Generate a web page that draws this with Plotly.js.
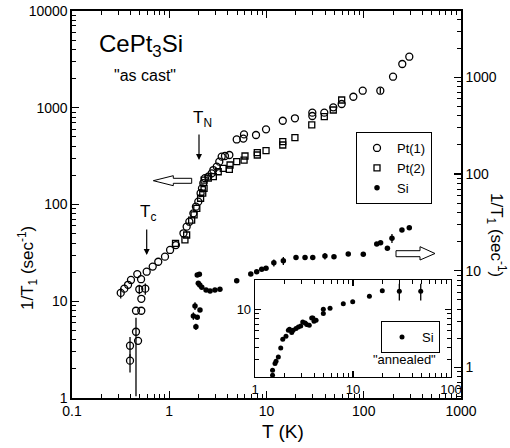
<!DOCTYPE html>
<html><head><meta charset="utf-8">
<script src="https://cdn.plot.ly/plotly-3.0.1.min.js"></script>
<style>html,body{margin:0;padding:0;background:#fff}</style>
</head><body>
<div id="chart" style="width:510px;height:448px"></div>
<script>
// Pt(1) open circles (left axis)
const pt1T = [0.317,0.345,0.377,0.404,0.469,0.513,0.492,0.567,0.516,0.455,0.516,0.455,0.478,0.395,0.395,
  0.586,0.676,0.771,0.904,1.02,1.17,1.40,1.51,1.61,1.77,1.88,1.99,2.10,2.17,2.24,2.33,2.52,2.73,2.84,3.08,3.27,3.46,3.74,4.15,
  4.94,5.78,5.87,7.80,9.89,14.7,19.6,29.6,29.6,39.3,48.6,59.3,78.2,97.6,148,200,249,294];
const pt1V = [12.2,13.5,14.8,16.6,19.1,16.9,13.3,13.5,10.6,7.98,7.98,4.84,3.9,3.47,2.43,
  20.2,22.8,25.6,28.9,33.9,38.1,50.4,59,66.4,81,95,107,131,147,166,187,194,210,227,246,277,312,317,325,
  470,480,530,523,598,734,778,889,822,889,1010,1094,1300,1500,1500,2094,2831,3370];
const pt1ErrPlus = [1.5,0,0,0,0,0,1.5,1.8,0,0,0,1.9,0,0.8,0.4,
  0,0,0,0,0,0,0,0,0,0,0,0,0,0,0,0,0,0,0,0,0,0,0,0,
  0,0,0,0,0,0,0,0,0,0,0,0,0,0,100,0,0,0];
const pt1ErrMinus = [1.5,0,0,0,0,0,1.5,1.8,0,0,0,3.8,0,0.8,0.6,
  0,0,0,0,0,0,0,0,0,0,0,0,0,0,0,0,0,0,0,0,0,0,0,0,
  0,0,0,0,0,0,0,0,0,0,0,0,0,0,100,0,0,0];

// Pt(2) open squares (left axis)
const pt2T = [1.16,1.45,1.51,1.70,1.80,1.92,2.10,2.21,2.28,2.28,2.52,2.84,3.19,3.59,4.15,4.22,4.94,5.88,6.01,8.04,8.04,9.89,14.7,14.7,19.6,29.2,39.3,48.6,59.3];
const pt2V = [39.7,43,48.4,69,78,91,116,131,147,179,187,194,218,236,231,256,277,288,317,325,343,360,412,446,490,664,809,948,1202];

// Si filled dots, "as cast" (right axis)
const siT = [1.94,2.04,1.99,2.06,2.16,2.39,2.63,2.95,3.32,4.94,6.89,7.93,8.93,9.89,11.9,14.9,20.1,24.9,29.9,39.9,49.4,69.3,98.9,136,149,175,195,247,294,
  1.84,1.77,1.94,2.07,1.88];
const siV = [9.05,9.2,7.43,7.13,6.75,6.33,6.18,6.33,6.44,7.91,9.27,9.79,10.4,10.6,12.1,12.7,13.7,13.7,13.7,14.2,14.0,14.9,14.8,18.9,19.5,17.1,21.7,26.4,27.9,
  4.33,3.41,3.30,3.93,2.64];
const siErr = [0,0,0,0,0,0,0,0,0,0,0,0,0,0,1.0,1.2,0,0,0,1.1,0,0,0,0,0,0,2.3,0,0,
  0.4,0.3,0,0,0.2];

// Si "annealed" (inset)
const anT = [1.51,1.51,1.60,1.64,1.73,1.83,1.92,2.07,2.19,2.25,2.37,2.45,2.62,2.77,2.93,3.07,3.25,3.37,3.58,3.79,3.90,4.00,4.20,4.98,4.98,5.83,7.96,9.93,14.7,19.9,29.7,49.1];
const anV = [2.09,2.35,2.75,2.91,3.22,3.99,4.91,5.27,6.08,6.2,5.75,6.08,6.33,6.57,6.73,7.39,7.2,6.95,6.84,8.13,8.13,7.52,7.7,9.04,10.0,10.2,11.4,11.9,13.6,15.5,15.3,15.3];
const anErr = [0,0,0,0,0,0,0,0,0,0,0,0,0,0,0,0,0,0.4,0,0,0,0,0,0,0,0,0,0,0,0,3,3];

const seriesNames = ['Pt(1)','Pt(2)','Si'];

// tick labels
const xTickVals = [0.1,1,10,100,1000];
const xTickText = ['0.1','1','10','100','1000'];
const yTickVals = [1,10,100,1000,10000];
const yTickText = ['1','10','100','1000','10000'];
const y2TickVals = [1,10,100,1000];
const y2TickText = ['1','10','100','1000'];
const insetXTickVals = [1,10,100];
const insetXTickText = ['1','10','100'];
const insetYTickVals = [10];
const insetYTickText = ['10'];

const FONT = 'Liberation Sans, Arial, Helvetica, sans-serif';

// plot frame in pixels
const L=72, R=461, T=11, B=398;
const fx = p => (p-L)/(R-L);
const fy = p => (B-p)/(B-T);

const errStyle = {type:'data', symmetric:false, width:0, thickness:1.3, color:'black'};

const traces = [
  {x:pt1T, y:pt1V, name:seriesNames[0], type:'scatter', mode:'markers', xaxis:'x', yaxis:'y',
   marker:{symbol:'circle-open', size:7, color:'black', line:{width:1.3}},
   error_y:Object.assign({array:pt1ErrPlus, arrayminus:pt1ErrMinus}, errStyle)},
  {x:pt2T, y:pt2V, name:seriesNames[1], type:'scatter', mode:'markers', xaxis:'x', yaxis:'y',
   marker:{symbol:'square-open', size:6, color:'black', line:{width:1.3}}},
  {x:siT, y:siV, name:seriesNames[2], type:'scatter', mode:'markers', xaxis:'x', yaxis:'y2',
   marker:{symbol:'circle', size:5.5, color:'black'},
   error_y:Object.assign({array:siErr, arrayminus:siErr}, errStyle)},
  {x:anT, y:anV, name:'Si', type:'scatter', mode:'markers', xaxis:'x3', yaxis:'y3', legend:'legend2',
   marker:{symbol:'circle', size:5, color:'black'},
   error_y:Object.assign({array:anErr, arrayminus:anErr}, errStyle)}
];

const axBase = {type:'log', showgrid:false, zeroline:false, showline:true, linecolor:'black', linewidth:1.6,
  ticks:'inside', ticklen:7, tickwidth:1.3, tickcolor:'black', tickmode:'array',
  tickfont:{family:FONT, size:14, color:'black'},
  minor:{ticks:'inside', ticklen:4, tickwidth:1, tickcolor:'black', dtick:'D1', showgrid:false}};

const ann = (px, py, text, size, extra) => Object.assign({xref:'paper', yref:'paper', x:fx(px), y:fy(py),
  xanchor:'center', yanchor:'middle', text:text, showarrow:false, font:{size:size}}, extra||{});

const layout = {
  width:510, height:448, margin:{l:L, r:510-R, t:T, b:448-B},
  paper_bgcolor:'white', plot_bgcolor:'white',
  font:{family:FONT, color:'black'},
  showlegend:true,
  xaxis:Object.assign({}, axBase, {range:[-1,3], mirror:'ticks', anchor:'y', domain:[0,1], tickvals:xTickVals, ticktext:xTickText}),
  yaxis:Object.assign({}, axBase, {range:[0,4], side:'left', anchor:'x', tickvals:yTickVals, ticktext:yTickText}),
  yaxis2:Object.assign({}, axBase, {range:[-0.315,3.685], side:'right', overlaying:'y', anchor:'x', tickvals:y2TickVals, ticktext:y2TickText}),
  xaxis3:Object.assign({}, axBase, {range:[0,2], domain:[fx(255), fx(451)], anchor:'y3', mirror:'ticks', linewidth:1.3,
     tickvals:insetXTickVals, ticktext:insetXTickText,
     tickfont:{family:FONT, size:13, color:'black'}, ticklen:6}),
  yaxis3:Object.assign({}, axBase, {range:[Math.log10(2), Math.log10(20)], domain:[fy(377), fy(280)], anchor:'x3', mirror:'ticks', linewidth:1.3,
     tickvals:insetYTickVals, ticktext:insetYTickText,
     tickfont:{family:FONT, size:13, color:'black'}, ticklen:6}),
  legend:{x:fx(356), y:fy(132), xanchor:'left', yanchor:'top', bgcolor:'white', bordercolor:'black', borderwidth:1,
     font:{family:FONT, size:13, color:'black'}, itemwidth:30, tracegroupgap:0},
  legend2:{x:fx(381), y:fy(321), xanchor:'left', yanchor:'top', bgcolor:'white', bordercolor:'black', borderwidth:1,
     font:{family:FONT, size:13, color:'black'}, itemwidth:30},
  annotations:[
    ann(141, 45, 'CePt<sub>3</sub>Si', 24),
    ann(145, 75, '"as cast"', 16),
    ann(202, 119, 'T<sub>N</sub>', 17),
    ann(148, 213, 'T<sub>c</sub>', 17),
    {xref:'paper', yref:'paper', x:fx(199), y:fy(160), ax:0, ay:-27, text:'', showarrow:true, arrowhead:2, arrowsize:1, arrowwidth:1.2, arrowcolor:'black'},
    {xref:'paper', yref:'paper', x:fx(146.7), y:fy(255), ax:0, ay:-27, text:'', showarrow:true, arrowhead:2, arrowsize:1, arrowwidth:1.2, arrowcolor:'black'},
    ann(404, 359, '"annealed"', 13),
    ann(283, 431, 'T (K)', 19),
    ann(27, 268, '1/T<sub>1</sub> (sec<sup>-1</sup>)', 17, {textangle:-90}),
    ann(497, 235, '1/T<sub>1</sub> (sec<sup>-1</sup>)', 17, {textangle:90})
  ],
  shapes:[
    {type:'path', xref:'paper', yref:'paper', line:{color:'black', width:1}, fillcolor:'white',
     path:`M ${fx(153.3)},${fy(180.7)} L ${fx(173.3)},${fy(175.7)} L ${fx(173.3)},${fy(178.3)} L ${fx(191.7)},${fy(178.3)} L ${fx(191.7)},${fy(183.3)} L ${fx(173.3)},${fy(183.3)} L ${fx(173.3)},${fy(185.7)} Z`},
    {type:'path', xref:'paper', yref:'paper', line:{color:'black', width:1}, fillcolor:'white',
     path:`M ${fx(396)},${fy(250.7)} L ${fx(420)},${fy(250.7)} L ${fx(420)},${fy(246.7)} L ${fx(435)},${fy(253.5)} L ${fx(420)},${fy(260)} L ${fx(420)},${fy(256.7)} L ${fx(396)},${fy(256.7)} Z`}
  ]
};

Plotly.newPlot('chart', traces, layout, {displayModeBar:false, staticPlot:true});
</script>
</body></html>
